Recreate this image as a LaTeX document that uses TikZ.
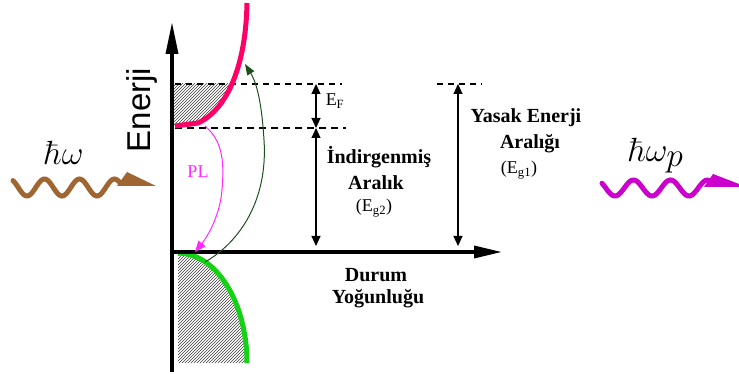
\documentclass[tikz,border=0pt]{standalone}
\usepackage[no-math]{fontspec}
\setmainfont{Liberation Serif}
\newfontfamily\arialfont{Liberation Sans}
\usetikzlibrary{arrows.meta,patterns}
\definecolor{cpink}{RGB}{255,0,102}
\definecolor{cgreen}{RGB}{20,210,20}
\definecolor{cdkgreen}{RGB}{30,80,30}
\definecolor{cbrown}{RGB}{160,102,50}
\definecolor{cmag}{RGB}{204,0,204}
\definecolor{cpl}{RGB}{255,40,255}
\definecolor{chatch}{RGB}{60,60,60}
\tikzset{
  axisline/.style={line width=3.5pt,-{Triangle[length=32pt,width=12pt]}},
  dimarrow/.style={line width=1.1pt,{Triangle[length=10pt,width=9pt]}-{Triangle[length=10pt,width=9pt]}},
  thindash/.style={line width=1.3pt,dash pattern=on 6pt off 5pt},
  thickdash/.style={line width=2.6pt,dash pattern=on 7pt off 5pt},
  boldlabel/.style={font=\fontsize{20}{22}\selectfont\bfseries,align=center,inner sep=0pt},
  plainlabel/.style={font=\fontsize{18}{20}\selectfont,inner sep=0pt},
  hatchfill/.style={pattern=north east lines,pattern color=chatch},
  photonlabel/.style={font=\Huge,scale=1.35,inner sep=0pt}
}
\begin{document}
\begin{tikzpicture}[x=1pt,y=-1pt]
\useasboundingbox (0,0) rectangle (739,374);
% hatched regions
\begin{scope}
  \clip (174,84) rectangle (260,126);
  \fill[hatchfill] (174,5) -- (174,126) -- (198,123) .. controls (230,108) and (246,60) .. (247,5) -- cycle;
\end{scope}
\fill[hatchfill] (178,253) .. controls (216,253) and (247,302) .. (247,363) -- (178,363) -- cycle;
% dashed levels
\coordinate (efL) at (175,84);
\coordinate (efR) at (342,84);
\coordinate (ecL) at (175,128);
\coordinate (ecR) at (346,128);
\coordinate (egL) at (437,84);
\coordinate (egR) at (482,84);
\draw[thindash] (efL) -- (efR);
\draw[thickdash] (ecL) -- (ecR);
\draw[thindash] (egL) -- (egR);
% bands
\draw[cpink,line width=5pt] (175,126) -- (198,123) .. controls (230,108) and (246,60) .. (247,3);
\draw[cgreen,line width=5pt] (178,253) .. controls (216,253) and (247,302) .. (247,363);
% axes
\coordinate (o) at (172,252);
\coordinate (ybot) at (172,372);
\coordinate (ytop) at (172,22);
\coordinate (xend) at (502,252);
\draw[line width=3.5pt] (ybot) -- (o);
\draw[axisline] (o) -- (ytop);
\draw[line width=3.5pt,-{Triangle[length=28pt,width=12pt]}] (o) -- (xend);
% dimension arrows
\coordinate (a1) at (316,84);
\coordinate (a2) at (316,128);
\coordinate (a3) at (316,246);
\coordinate (b1) at (458,84);
\coordinate (b2) at (458,246);
\draw[dimarrow] (a1) -- (a2);
\draw[dimarrow] (a2) -- (a3);
\draw[dimarrow] (b1) -- (b2);
% transitions
\coordinate (plS) at (205,126);
\coordinate (plE) at (195,252);
\draw[cpl,line width=1pt,-{Triangle[length=11pt,width=9pt]}] (plS) .. controls (224,142) and (224,165) .. (222,190) .. controls (220,215) and (208,236) .. (plE);
\coordinate (abS) at (205,262);
\coordinate (abE) at (245,64);
\draw[cdkgreen,line width=1pt,-{Triangle[length=11pt,width=8pt]}] (abS) .. controls (240,242) and (268,200) .. (264,140) .. controls (262,108) and (258,85) .. (abE);
% labels
\node[rotate=90,font=\arialfont\fontsize{33}{35}\selectfont,inner sep=0pt] (en) at (142,110) {Enerji};
\node[plainlabel] (ef) at (335,101) {E\textsubscript{F}};
\node[plainlabel,text=cpl] (pl) at (198,172) {PL};
\node[boldlabel] (ind) at (379,157) {İndirgenmiş};
\node[boldlabel] (ar2) at (376,183) {Aralık};
\node[plainlabel] (eg2) at (374,208) {(E\textsubscript{g2})};
\node[boldlabel] (yas) at (526,118) {Yasak Enerji};
\node[boldlabel] (ar1) at (530,144) {Aralığı};
\node[plainlabel] (eg1) at (519,170) {(E\textsubscript{g1})};
\node[boldlabel] (dur) at (376,275) {Durum};
\node[boldlabel] (yog) at (378,299) {Yoğunluğu};
\node[photonlabel] (hw) at (64,153) {$\hbar\omega$};
\node[photonlabel] (hwp) at (656,156) {$\hbar\omega_{\textstyle p}$};
% photon waves
\draw[cbrown,line width=5pt,line cap=round] plot[domain=13:120,samples=80,smooth] (\x,{187.5+8.5*cos(10.2857*(\x-27))});
\fill[cbrown] (117,186) -- (127,172) -- (156,186) -- cycle;
\draw[cmag,line width=5pt,line cap=round] plot[domain=602:708,samples=80,smooth] (\x,{188+8*cos(9.7297*(\x-652))});
\fill[cmag] (704,187) -- (713,174) -- (739,184) -- (739,187) -- cycle;
\end{tikzpicture}
\end{document}
